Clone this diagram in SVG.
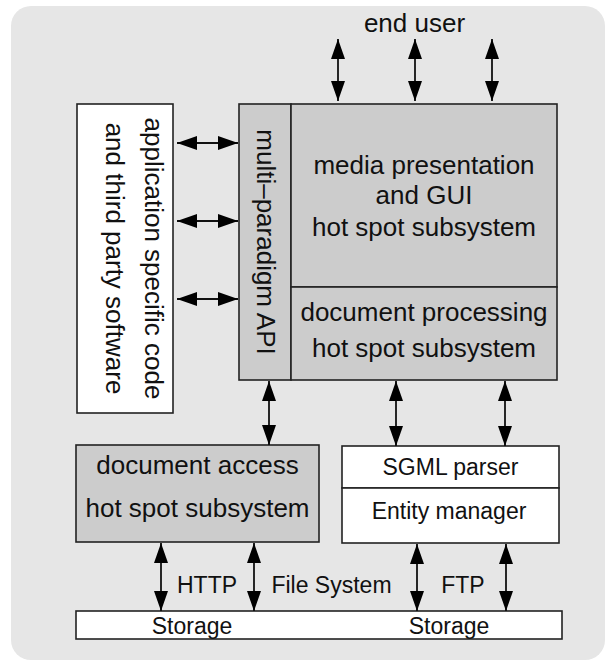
<svg xmlns="http://www.w3.org/2000/svg" width="605" height="660" viewBox="0 0 605 660">
<style>
.t{font-family:"Liberation Sans",Arial,sans-serif;font-size:26px;fill:#111;text-anchor:middle}
.s{font-family:"Liberation Sans",Arial,sans-serif;font-size:23px;fill:#111;text-anchor:middle}
.box{stroke:#222;stroke-width:1.6}
.g{fill:#cccccc}
.w{fill:#ffffff}
.c{stroke:#111;stroke-width:1.8;fill:none;marker-start:url(#ah);marker-end:url(#ah)}
</style>
<defs>
<marker id="ah" markerUnits="userSpaceOnUse" markerWidth="20" markerHeight="14" refX="20" refY="7" orient="auto-start-reverse" viewBox="0 0 20 14">
<path d="M0,0 L20,7 L0,14 z" fill="#000"/>
</marker>
</defs>
<rect x="11" y="6" width="594" height="654" rx="20" ry="20" fill="#e6e6e6"/>
<g id="app">
<rect class="box w" x="77" y="104" width="96" height="309"/>
<text class="t" transform="translate(144.5,258.5) rotate(90)">application specific code</text>
<text class="t" transform="translate(105.5,258.5) rotate(90)">and third party software</text>
</g>
<g id="api">
<rect class="box g" x="239" y="104" width="52" height="276"/>
<text class="t" transform="translate(257,242) rotate(90)">multi–paradigm API</text>
</g>
<g id="media">
<rect class="box g" x="291" y="104" width="266" height="183"/>
<text class="t" x="424" y="173.5">media presentation</text>
<text class="t" x="424" y="204">and GUI</text>
<text class="t" x="424" y="235.5">hot spot subsystem</text>
</g>
<g id="docproc">
<rect class="box g" x="291" y="287" width="266" height="93"/>
<text class="t" x="424" y="320.5">document processing</text>
<text class="t" x="424" y="356.5">hot spot subsystem</text>
</g>
<g id="end-user">
<text class="t" x="414.5" y="32">end user</text>
</g>
<g id="docaccess">
<rect class="box g" x="76" y="445" width="243" height="97"/>
<text class="t" x="197.5" y="474">document access</text>
<text class="t" x="197.5" y="517">hot spot subsystem</text>
</g>
<g id="sgml">
<rect class="box w" x="342" y="446" width="217" height="42"/>
<text class="s" x="450.5" y="474.5">SGML parser</text>
</g>
<g id="entity">
<rect class="box w" x="342" y="488" width="217" height="55"/>
<text class="s" x="449" y="518.5">Entity manager</text>
</g>
<g id="storage">
<rect class="box w" x="76" y="611" width="486" height="28"/>
<text class="s" x="192" y="633.5">Storage</text>
<text class="s" x="449" y="633.5">Storage</text>
</g>
<g id="connectors">
<line class="c" x1="338" y1="39" x2="338" y2="101"/>
<line class="c" x1="415" y1="39" x2="415" y2="101"/>
<line class="c" x1="492" y1="39" x2="492" y2="101"/>
<line class="c" x1="177" y1="143" x2="238" y2="143"/>
<line class="c" x1="177" y1="221" x2="238" y2="221"/>
<line class="c" x1="177" y1="299" x2="238" y2="299"/>
<line class="c" x1="269" y1="381" x2="269" y2="445"/>
<line class="c" x1="396" y1="381" x2="396" y2="446"/>
<line class="c" x1="505" y1="381" x2="505" y2="446"/>
<line class="c" x1="161" y1="543" x2="161" y2="611"/>
<line class="c" x1="254" y1="543" x2="254" y2="611"/>
<line class="c" x1="417" y1="544" x2="417" y2="611"/>
<line class="c" x1="506" y1="544" x2="506" y2="611"/>
<text class="s" x="207" y="592.5">HTTP</text>
<text class="s" x="331.5" y="592.5">File System</text>
<text class="s" x="463" y="592.5">FTP</text>
</g>
</svg>
